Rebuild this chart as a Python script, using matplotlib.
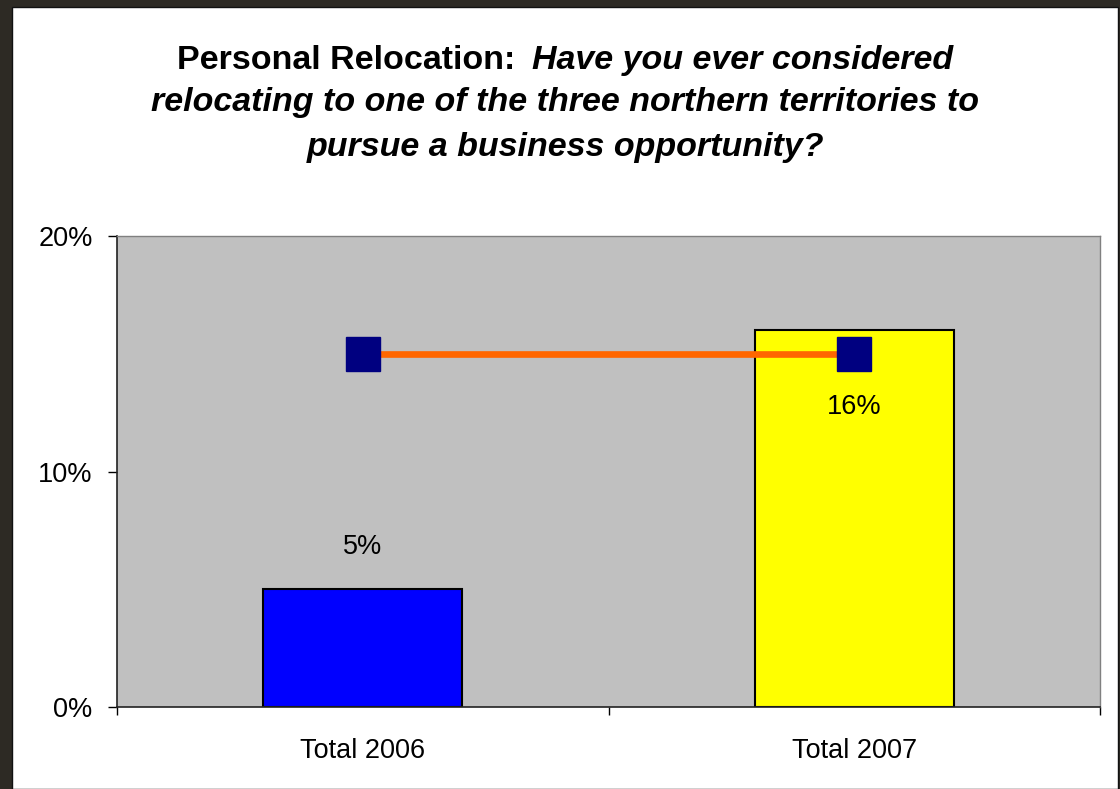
import numpy as np
import matplotlib
matplotlib.use("Agg")
from matplotlib import pyplot as plt
from matplotlib.patches import Rectangle
from matplotlib.ticker import FuncFormatter

# chart data
categories = ["Total 2006", "Total 2007"]
bar_values = [5, 16]
line_values = [15, 15]
y_ticks = [0, 10, 20]

title_lead = "Personal Relocation:"
title_rest = ["Have you ever considered",
              "relocating to one of the three northern territories to",
              "pursue a business opportunity?"]

plt.rcParams['font.family'] = ['Liberation Sans', 'DejaVu Sans']

W, H = 1120, 789
fig = plt.figure(figsize=(W / 100, H / 100), dpi=100)
fig.patch.set_facecolor('#2d2a24')

# white chart panel inside the dark frame
fig.add_artist(Rectangle((12 / W, 0), (1118 - 12) / W, (H - 7) / H,
                         transform=fig.transFigure, facecolor='white',
                         edgecolor='#111111', lw=1, zorder=0))

ax = fig.add_axes([117 / W, (H - 707) / H, (1100 - 117) / W, (707 - 236) / H])
ax.set_facecolor('#C0C0C0')

x = np.arange(len(categories))
bars = ax.bar(x, bar_values, width=0.405, color=['#0000FF', '#FFFF00'],
              edgecolor='black', linewidth=1.5, zorder=2)
ax.plot(x, line_values, color='#FF6600', lw=4.8, marker='s', markersize=24,
        markerfacecolor='#000080', markeredgecolor='#000080', zorder=3)

# data labels (second one sits inside the bar, as in the original)
label_offsets = [42, -77]
for xi, v, off in zip(x, bar_values, label_offsets):
    ax.annotate(f"{v}%", (xi, v), xytext=(0, off), textcoords='offset pixels',
                ha='center', va='center', fontsize=19.5, color='black', zorder=4)

ax.set_xlim(-0.5, len(categories) - 0.5)
ax.set_ylim(0, 20)
ax.set_yticks(y_ticks)
ax.yaxis.set_major_formatter(FuncFormatter(lambda v, p: f"{v:.0f}%"))
ax.set_xticks(x)
ax.set_xticklabels(categories)
ax.set_xticks(np.arange(len(categories) + 1) - 0.5, minor=True)

ax.tick_params(axis='y', length=6.5, width=1, pad=11, labelsize=19.5, color='black')
ax.tick_params(axis='x', which='major', length=0, pad=22, labelsize=19.5)
ax.tick_params(axis='x', which='minor', length=5.5, width=1, color='black')

for side in ['top', 'right']:
    ax.spines[side].set_color('#808080')
    ax.spines[side].set_linewidth(1)
for side in ['left', 'bottom']:
    ax.spines[side].set_color('#222222')
    ax.spines[side].set_linewidth(1.2)

# title: first line mixes upright bold and bold italic
cx = 565
renderer = fig.canvas.get_renderer()
t1 = fig.text(0, (H - 69) / H, title_lead, fontsize=24.5, fontweight='bold',
              va='baseline', ha='left')
t2 = fig.text(0, (H - 69) / H, title_rest[0], fontsize=24.5, fontweight='bold',
              style='italic', va='baseline', ha='left')
w1 = t1.get_window_extent(renderer).width
w2 = t2.get_window_extent(renderer).width
gap = 16
start = cx - (w1 + gap + w2) / 2
t1.set_x(start / W)
t2.set_x((start + w1 + gap) / W)

for i, line in enumerate(title_rest[1:]):
    fig.text(cx / W, (H - 111 - 45 * i) / H, line, fontsize=24.5,
             fontweight='bold', style='italic', va='baseline', ha='center')

fig.savefig("out.png", dpi=100, facecolor=fig.get_facecolor())
